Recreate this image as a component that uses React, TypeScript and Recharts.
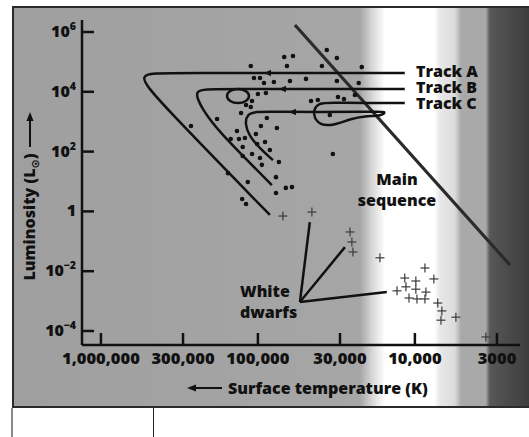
import { ComposedChart, Line, Scatter, XAxis, YAxis } from "recharts";

const font = "'Open Sans', 'DejaVu Sans', sans-serif";
const ink = "#111";

// axis ticks
const tempTicks = [1000000, 300000, 100000, 30000, 10000, 3000];
const tempTickLabels = ["1,000,000", "300,000", "100,000", "30,000", "10,000", "3000"];
const lumTicks = [1e6, 1e4, 1e2, 1, 1e-2, 1e-4];
const lumTickExponents = ["6", "4", "2", "", "\u22122", "\u22124"];

// stars (T in K, L in solar units)
const giantStars = [
  { T: 68000, L: 146000 }, { T: 59800, L: 157000 }, { T: 65300, L: 73000 },
  { T: 111000, L: 73000 }, { T: 106000, L: 29000 }, { T: 97000, L: 29000 },
  { T: 91500, L: 19700 }, { T: 79100, L: 21300 }, { T: 100000, L: 8400 },
  { T: 88900, L: 9100 }, { T: 109000, L: 4900 }, { T: 119000, L: 3600 },
  { T: 111000, L: 3100 }, { T: 128000, L: 1950 }, { T: 182000, L: 1230 },
  { T: 267000, L: 718 }, { T: 87700, L: 1330 }, { T: 95700, L: 718 },
  { T: 75700, L: 615 }, { T: 136000, L: 489 }, { T: 149000, L: 264 },
  { T: 132000, L: 264 }, { T: 121000, L: 285 }, { T: 103000, L: 388 },
  { T: 125000, L: 143 }, { T: 101000, L: 180 }, { T: 90100, L: 209 },
  { T: 83900, L: 113 }, { T: 125000, L: 71 }, { T: 109000, L: 83 },
  { T: 97000, L: 61 }, { T: 94400, L: 36 }, { T: 73500, L: 45 },
  { T: 155000, L: 19 }, { T: 116000, L: 9.6 }, { T: 76700, L: 14 },
  { T: 76700, L: 4.1 }, { T: 66400, L: 6.1 }, { T: 60700, L: 6.5 },
  { T: 126000, L: 2.6 }, { T: 119000, L: 1.77 }, { T: 36400, L: 250000 },
  { T: 31400, L: 135000 }, { T: 39100, L: 73000 }, { T: 21800, L: 67000 },
  { T: 62500, L: 23000 }, { T: 49400, L: 27000 }, { T: 31400, L: 23000 },
  { T: 22800, L: 19700 }, { T: 45900, L: 4900 }, { T: 41500, L: 5300 },
  { T: 30900, L: 6700 }, { T: 28300, L: 5700 }, { T: 24100, L: 7800 },
  { T: 34800, L: 1670 }, { T: 33300, L: 83 },
];

const whiteDwarfs = [
  { T: 69300, L: 0.7 }, { T: 45300, L: 0.95 }, { T: 25900, L: 0.205 },
  { T: 25200, L: 0.095 }, { T: 24800, L: 0.044 }, { T: 16700, L: 0.028 },
  { T: 8630, L: 0.0128 }, { T: 11600, L: 0.0059 }, { T: 9860, L: 0.0047 },
  { T: 7570, L: 0.0055 }, { T: 13000, L: 0.0022 }, { T: 11400, L: 0.003 },
  { T: 9860, L: 0.0025 }, { T: 8510, L: 0.002 }, { T: 10900, L: 0.00127 },
  { T: 9700, L: 0.00118 }, { T: 8630, L: 0.00118 }, { T: 7150, L: 0.00086 },
  { T: 6730, L: 0.00047 }, { T: 6820, L: 0.00023 }, { T: 5480, L: 0.00029 },
  { T: 3530, L: 0.000063 },
];

const mainSequence = [
  { T: 58100, L: 1710000 },
  { T: 2480, L: 0.0161 },
];

// evolutionary tracks
const trackA = [
  { T: 11600, L: 42600 }, { T: 391000, L: 42600 }, { T: 599000, L: 42600 },
  { T: 434000, L: 5320 }, { T: 83900, L: 0.76 },
];
const trackB = [
  { T: 11600, L: 12400 }, { T: 188000, L: 12400 }, { T: 263000, L: 12400 },
  { T: 224000, L: 2460 }, { T: 182000, L: 527 }, { T: 81500, L: 7.6 },
];
const trackBLoop = [
  { T: 112000, L: 7240 }, { T: 118000, L: 11000 }, { T: 134000, L: 13200 },
  { T: 152000, L: 11000 }, { T: 160000, L: 7240 }, { T: 152000, L: 4740 },
  { T: 134000, L: 3970 }, { T: 118000, L: 4740 },
];
const trackC = [
  { T: 11600, L: 4220 }, { T: 32400, L: 4220 }, { T: 41500, L: 4560 },
  { T: 45300, L: 1810 }, { T: 40300, L: 718 }, { T: 32400, L: 776 },
  { T: 25900, L: 1230 }, { T: 20800, L: 1550 }, { T: 16200, L: 1550 },
  { T: 15100, L: 2280 }, { T: 18000, L: 2110 }, { T: 86300, L: 2110 },
  { T: 123000, L: 2280 }, { T: 119000, L: 333 }, { T: 80200, L: 52 },
];
const trackArrows = [
  { T: 86300, L: 42600 }, { T: 69300, L: 12400 }, { T: 59800, L: 2110 },
];

// pointers from the "White dwarfs" label
const dwarfPointerA = [{ T: 54000, L: 0.00093 }, { T: 46700, L: 0.44 }];
const dwarfPointerB = [{ T: 54000, L: 0.00093 }, { T: 27900, L: 0.064 }];
const dwarfPointerC = [{ T: 54000, L: 0.00093 }, { T: 15100, L: 0.002 }];

function StarDot(props: any) {
  return <circle cx={props.cx} cy={props.cy} r={2.3} fill={ink} />;
}

function DwarfPlus(props: any) {
  const { cx, cy } = props;
  return (
    <g stroke="#3a3a3a" strokeWidth={1.2}>
      <line x1={cx - 4.5} x2={cx + 4.5} y1={cy} y2={cy} />
      <line x1={cx} x2={cx} y1={cy - 4.5} y2={cy + 4.5} />
    </g>
  );
}

function ArrowHead(props: any) {
  const { cx, cy } = props;
  return <path d={`M${cx - 4},${cy} L${cx + 3},${cy - 3.2} L${cx + 3},${cy + 3.2} Z`} fill={ink} />;
}

function LumTick(props: any) {
  const { x, y, payload } = props;
  const exp = lumTickExponents[lumTicks.indexOf(payload.value)];
  return (
    <g>
      <line x1={x} x2={x + 12} y1={y} y2={y} stroke={ink} strokeWidth={2.5} />
      <text x={x - 6} y={y + 5} textAnchor="end" fontFamily={font} fontWeight={800} fontSize={16} fill={ink}>
        {exp ? (
          <>
            10<tspan dy={-7} fontSize={10.5}>{exp}</tspan>
          </>
        ) : (
          "1"
        )}
      </text>
    </g>
  );
}

function TempTick(props: any) {
  const { x, y, payload } = props;
  const label = tempTickLabels[tempTicks.indexOf(payload.value)];
  return (
    <g>
      <line x1={x} x2={x} y1={y} y2={y - 12} stroke={ink} strokeWidth={2.5} />
      <text x={x} y={y + 19} textAnchor="middle" fontFamily={font} fontWeight={800} fontSize={16.5} fill={ink}>
        {label}
      </text>
    </g>
  );
}

const lineProps = {
  dataKey: "L",
  dot: false,
  activeDot: false,
  isAnimationActive: false,
  stroke: ink,
  strokeWidth: 2.5,
};

const bandGradient =
  "linear-gradient(to right, #9f9f9f 0%, #a6a6a6 67.2%, #d6d6d6 69.5%, #ffffff 72%, #ffffff 81.6%, #e8e8e8 82.7%, #dcdcdc 85.6%, #a9a9a9 86.8%, #a9a9a9 91.6%, #575757 92.4%, #3d3d3d 100%)";

export default function App() {
  return (
    <div style={{ position: "absolute", left: 0, top: 0, width: 529, height: 437, background: "#fff", overflow: "hidden" }}>
      <div
        style={{
          position: "absolute",
          left: 12,
          top: 6,
          width: 515,
          height: 398,
          background: bandGradient,
          borderTop: "2px solid #2a2a2a",
          borderLeft: "2px solid #2a2a2a",
          borderBottom: "2px solid #2a2a2a",
        }}
      />
      <div
        style={{
          position: "absolute",
          left: 11,
          top: 408,
          width: 140,
          height: 40,
          borderLeft: "2px solid #8a8a8a",
          borderRight: "1px solid #222",
        }}
      />
      <div style={{ position: "absolute", left: 0, top: 0 }}>
        <ComposedChart width={529} height={437} margin={{ top: 20, right: 9, left: 0, bottom: 0 }}>
          <XAxis
            dataKey="T"
            type="number"
            scale="log"
            domain={[2140, 1320000]}
            allowDataOverflow
            reversed
            ticks={tempTicks}
            interval={0}
            tickSize={0}
            tickMargin={0}
            height={92}
            tick={<TempTick />}
            axisLine={{ stroke: ink, strokeWidth: 2.5 }}
          />
          <YAxis
            dataKey="L"
            type="number"
            scale="log"
            domain={[3.4e-5, 2.52e6]}
            allowDataOverflow
            ticks={lumTicks}
            interval={0}
            tickSize={0}
            tickMargin={0}
            width={82}
            tick={<LumTick />}
            axisLine={{ stroke: ink, strokeWidth: 2.5 }}
          />
          <Line {...lineProps} data={mainSequence} type="linear" stroke="#2b2b2b" strokeWidth={3.2} />
          <Line {...lineProps} data={trackA} type="basis" />
          <Line {...lineProps} data={trackB} type="basis" />
          <Line {...lineProps} data={trackBLoop} type="basisClosed" />
          <Line {...lineProps} data={trackC} type="basis" />
          <Line {...lineProps} data={dwarfPointerA} type="linear" />
          <Line {...lineProps} data={dwarfPointerB} type="linear" />
          <Line {...lineProps} data={dwarfPointerC} type="linear" />
          <Scatter data={giantStars} dataKey="L" shape={<StarDot />} isAnimationActive={false} />
          <Scatter data={whiteDwarfs} dataKey="L" shape={<DwarfPlus />} isAnimationActive={false} />
          <Scatter data={trackArrows} dataKey="L" shape={<ArrowHead />} isAnimationActive={false} />
        </ComposedChart>
      </div>
      <svg width={529} height={437} style={{ position: "absolute", left: 0, top: 0, pointerEvents: "none" }}>
        <g fontFamily={font} fontWeight={800} fontSize={16} fill={ink}>
          <text x={416} y={77}>Track A</text>
          <text x={416} y={93}>Track B</text>
          <text x={416} y={109}>Track C</text>
          <text x={397} y={185} textAnchor="middle">Main</text>
          <text x={397} y={206} textAnchor="middle">sequence</text>
          <text x={240} y={297}>White</text>
          <text x={240} y={318}>dwarfs</text>
          <text x={228} y={394}>Surface temperature (K)</text>
          <text x={35} y={217} textAnchor="middle" transform="rotate(-90 35 217)">
            Luminosity (L<tspan dy={4} fontSize={11}>{"\u2299"}</tspan>
            <tspan dy={-4}>)</tspan>
          </text>
        </g>
        <line x1={194} x2={222} y1={388} y2={388} stroke={ink} strokeWidth={2} />
        <path d="M187,388 L196,384.5 L196,391.5 Z" fill={ink} />
        <line x1={30} x2={30} y1={119} y2={147} stroke={ink} strokeWidth={2} />
        <path d="M30,112 L26.5,121 L33.5,121 Z" fill={ink} />
      </svg>
    </div>
  );
}
